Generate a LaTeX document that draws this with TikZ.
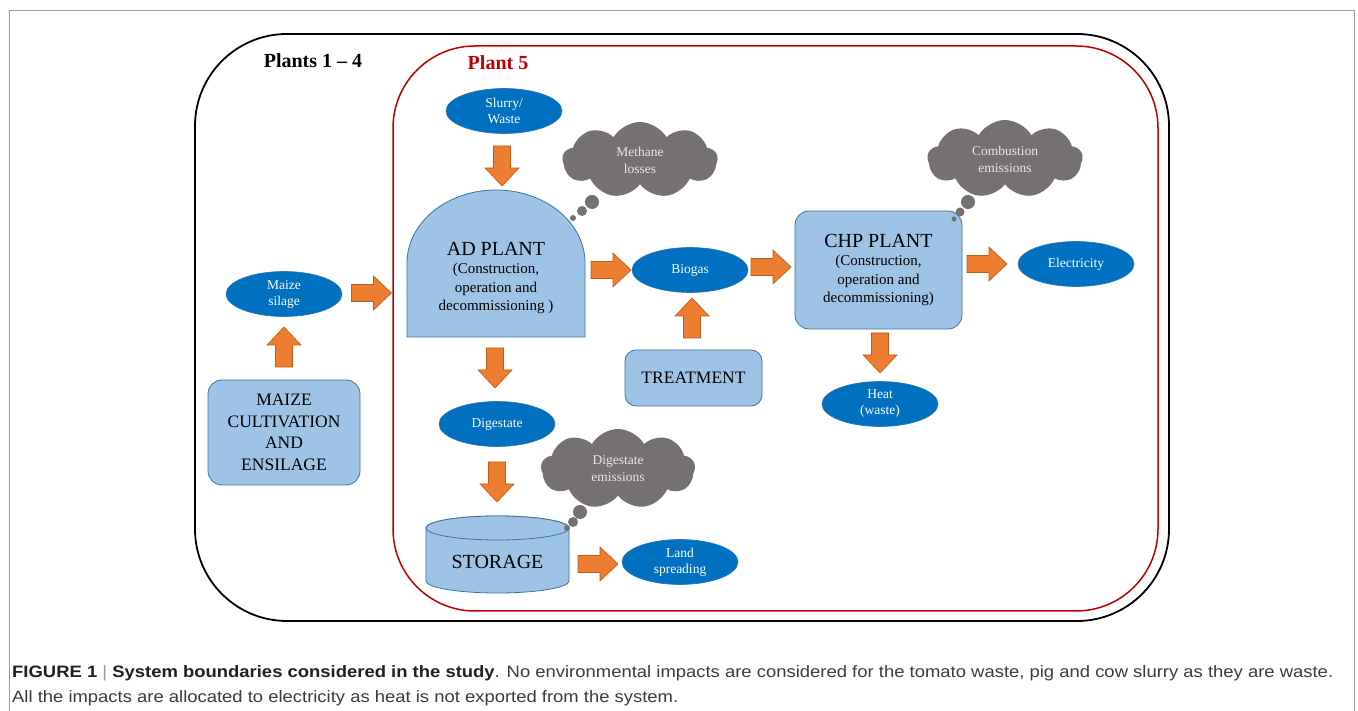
\documentclass[tikz,border=0pt]{standalone}
\usepackage{fontspec}
\usepackage{graphicx}
\setmainfont{Liberation Serif}
\newfontfamily\capfont{Liberation Sans}
\usetikzlibrary{shapes.geometric,shapes.symbols,calc}
\definecolor{ellblue}{HTML}{0070C0}
\definecolor{elledge}{HTML}{2E75B6}
\definecolor{boxblue}{HTML}{9DC3E6}
\definecolor{boxedge}{HTML}{41719C}
\definecolor{arrorange}{HTML}{ED7D31}
\definecolor{arredge}{HTML}{C55A11}
\definecolor{cloudgrey}{HTML}{767171}
\definecolor{cloudtxt}{HTML}{E7E6E6}
\definecolor{plantred}{HTML}{C00000}
\definecolor{capgrey}{HTML}{3C3C3C}
\definecolor{capbold}{HTML}{231F20}
\definecolor{framegrey}{HTML}{9A9A9A}
\tikzset{
 ell/.style={ellipse, fill=ellblue, draw=elledge, line width=0.6pt, minimum width=116pt, minimum height=45pt, inner sep=0pt, text=white, font=\fontsize{13.5}{16}\selectfont, align=center},
 boxstyle/.style={fill=boxblue, draw=boxedge, line width=0.8pt},
 box/.style={boxstyle, rectangle, rounded corners=14pt, inner sep=0pt, align=center},
 cloudnode/.style={cloud, cloud puffs=9, cloud puff arc=120, cloud ignores aspect, fill=cloudgrey, draw=none, inner sep=0pt, text=cloudtxt, font=\fontsize{13.5}{17}\selectfont, align=center},
 bubble/.style={circle, fill=cloudgrey, draw=none, inner sep=0pt},
 barrowstyle/.style={fill=arrorange, draw=arredge, line width=0.6pt, line join=miter},
 barrow/.pic={\path[barrowstyle] (-20,-8.5) -- (2,-8.5) -- (2,-17) -- (20,0) -- (2,17) -- (2,8.5) -- (-20,8.5) -- cycle;}
}
\begin{document}
\begin{tikzpicture}[x=1pt,y=1pt]
\useasboundingbox (0,0) rectangle (1358,711);
\fill[white] (0,0) rectangle (1358,711);
% outer frame
\draw[framegrey, line width=0.9pt] (9,0) -- (9,701) -- (1354,701) -- (1354,0);
% boundaries
\draw[black, line width=1.8pt, rounded corners=92pt] (195,90) rectangle (1169,677);
\draw[plantred, line width=1.5pt, rounded corners=82pt] (393,100) rectangle (1158,665);
\node[font=\fontsize{20}{22}\selectfont\bfseries] (lab14) at (313,650) {Plants 1 -- 4};
\node[font=\fontsize{20}{22}\selectfont\bfseries, text=plantred] (lab5) at (498,648) {Plant 5};

% ellipses
\node[ell] (silage) at (284,417) {Maize\\silage};
\node[ell] (slurry) at (504,600) {Slurry/\\Waste};
\node[ell] (biogas) at (690,441) {Biogas};
\node[ell] (elec) at (1076,447) {Electricity};
\node[ell] (heat) at (880,307) {Heat\\(waste)};
\node[ell] (digestate) at (497,287) {Digestate};
\node[ell] (land) at (680,149) {Land\\spreading};

% AD plant
\path[boxstyle] (407,374) -- (407,448) arc[start angle=180, end angle=0, x radius=89, y radius=73] -- (585,374) -- cycle;
\node[inner sep=0pt, minimum width=178pt, minimum height=147pt] (ad) at (496,447.5) {};
\node[align=center, font=\fontsize{15}{18.5}\selectfont] (adlabel) at (496,433) {{\fontsize{20}{22}\selectfont AD PLANT}\\(Construction,\\operation and\\decommissioning )};

% CHP plant
\node[box, minimum width=167pt, minimum height=118pt, font=\fontsize{15}{18.5}\selectfont] (chp) at (878.5,441) {{\fontsize{20}{22}\selectfont CHP PLANT}\\(Construction,\\operation and\\decommissioning)};

% treatment
\node[box, rounded corners=11pt, minimum width=137pt, minimum height=56pt, font=\fontsize{17.5}{20}\selectfont] (treat) at (693.5,333) {TREATMENT};

% maize cultivation
\node[box, minimum width=152pt, minimum height=105pt, font=\fontsize{17.5}{21.5}\selectfont] (maize) at (284,278.5) {MAIZE\\CULTIVATION\\AND\\ENSILAGE};

% storage cylinder
\path[boxstyle] (426,183) -- (426,130) arc[start angle=180, end angle=360, x radius=71.5, y radius=12] -- (569,183) arc[start angle=0, end angle=180, x radius=71.5, y radius=12] -- cycle;
\draw[boxstyle] (497.5,183) ellipse[x radius=71.5, y radius=12];
\node[font=\fontsize{20}{22}\selectfont] (storage) at (497.5,149) {STORAGE};

% clouds
\node[cloudnode, minimum width=155pt, minimum height=76pt] (methane) at (640,551) {Methane\\losses};
\node[bubble, minimum size=14pt] (mb1) at (592,509) {};
\node[bubble, minimum size=10pt] (mb2) at (582,500) {};
\node[bubble, minimum size=6pt] (mb3) at (573,493) {};

\node[cloudnode, minimum width=155pt, minimum height=78pt] (comb) at (1005,552) {Combustion\\emissions};
\node[bubble, minimum size=14pt] (cb1) at (968,509) {};
\node[bubble, minimum size=9pt] (cb2) at (960,499) {};
\node[bubble, minimum size=5pt] (cb3) at (954,492) {};

\node[cloudnode, minimum width=154pt, minimum height=80pt] (digem) at (618,242) {Digestate\\emissions};
\node[bubble, minimum size=14pt] (db1) at (580,199) {};
\node[bubble, minimum size=10pt] (db2) at (573,189) {};
\node[bubble, minimum size=6pt] (db3) at (567,183) {};

% block arrows
\pic[rotate=-90] at (502,545) {barrow};   % slurry -> AD
\pic at (371.5,418) {barrow};             % silage -> AD
\pic[rotate=90] at (284,364) {barrow};    % maize -> silage
\pic at (611,441) {barrow};               % AD -> biogas
\pic at (771,444) {barrow};               % biogas -> CHP
\pic[rotate=90] at (692,393) {barrow};    % treatment -> biogas
\pic at (987,447) {barrow};               % CHP -> electricity
\pic[rotate=-90] at (880,358) {barrow};   % CHP -> heat
\pic[rotate=-90] at (495,343) {barrow};   % AD -> digestate
\pic[rotate=-90] at (497,229) {barrow};   % digestate -> storage
\pic at (598,147) {barrow};               % storage -> land

% caption
\node[anchor=base west, inner sep=0pt, text=capgrey] (cap1) at (12,33) {\resizebox{1321pt}{\height}{\capfont\fontsize{16.5}{18}\selectfont \textbf{\color{capbold}FIGURE 1} {\color{framegrey}|} \textbf{\color{capbold}System boundaries considered in the study}. No environmental impacts are considered for the tomato waste, pig and cow slurry as they are waste.}};
\node[anchor=base west, inner sep=0pt, text=capgrey] (cap2) at (12,8) {\resizebox{666pt}{\height}{\capfont\fontsize{16.5}{18}\selectfont All the impacts are allocated to electricity as heat is not exported from the system.}};
\end{tikzpicture}
\end{document}
